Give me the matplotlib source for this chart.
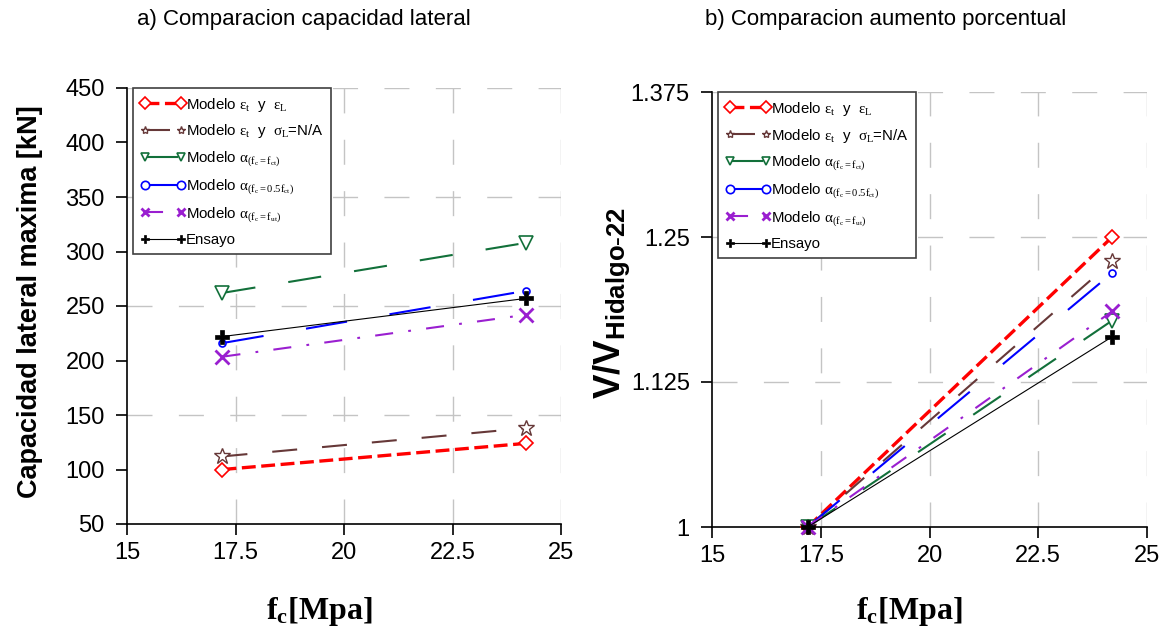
import numpy as np
import matplotlib
matplotlib.use("Agg")
import matplotlib.pyplot as plt

plt.rcParams['font.family'] = ['Liberation Sans', 'DejaVu Sans']
plt.rcParams['mathtext.fontset'] = 'custom'
plt.rcParams['mathtext.rm'] = 'Liberation Serif'
plt.rcParams['mathtext.it'] = 'Liberation Serif'
plt.rcParams['mathtext.bf'] = 'Liberation Serif:bold'
plt.rcParams['mathtext.sf'] = 'Liberation Sans:bold'
plt.rcParams['lines.scale_dashes'] = False

# data
fc = [17.2, 24.2]

cap_eps_L = [100, 124]
cap_eps_sig = [112, 138]
cap_fct = [262, 308]
cap_05fct = [216, 264]
cap_fut = [203.5, 242]
cap_ensayo = [222, 257]

rel_eps_L = [1.0, 1.250]
rel_eps_sig = [1.0, 1.229]
rel_fct = [1.0, 1.178]
rel_05fct = [1.0, 1.219]
rel_fut = [1.0, 1.186]
rel_ensayo = [1.0, 1.164]

labels = [r"Modelo $\varepsilon_t$  y  $\varepsilon_L$",
          r"Modelo $\varepsilon_t$  y  $\sigma_L$=N/A",
          r"Modelo $\alpha_{(f_c=f_{ct})}$",
          r"Modelo $\alpha_{(f_c=0.5f_{ct})}$",
          r"Modelo $\alpha_{(f_c=f_{ut})}$",
          "Ensayo"]

styles = [
    dict(color='#ff0000', ls=(0, (10, 4)), lw=2.4, marker='D', ms=7, mfc='white', mew=1.2),
    dict(color='#663838', ls=(0, (18, 18)), lw=1.5, marker='*', ms=12, mfc='white', mew=1.0),
    dict(color='#12703a', ls=(0, (24, 24)), lw=1.5, marker='v', ms=10, mfc='white', mew=1.2),
    dict(color='#0000ff', ls=(0, (30, 31)), lw=1.5, marker='o', ms=5, mfc='white', mew=1.2),
    dict(color='#9a1fd0', ls=(0, (13, 11, 2, 11)), lw=1.5, marker='x', ms=10, mew=2.0),
    dict(color='black', ls='-', lw=0.8, marker='P', ms=10, mfc='black', mew=0.5),
]

W, H = 1169, 634
fig = plt.figure(figsize=(W / 100, H / 100), dpi=100)

ax1 = fig.add_axes([127 / W, 1 - 524 / H, 434 / W, 436 / H])
ax2 = fig.add_axes([712 / W, 1 - 527 / H, 435 / W, 435 / H])

left_series = [cap_eps_L, cap_eps_sig, cap_fct, cap_05fct, cap_fut, cap_ensayo]
right_series = [rel_eps_L, rel_eps_sig, rel_fct, rel_05fct, rel_fut, rel_ensayo]

grid_kw = dict(color='#c4c4c4', lw=1.0, ls=(0, (18, 19)), zorder=0)

for ax, series in [(ax1, left_series), (ax2, right_series)]:
    for y, st, lab in zip(series, styles, labels):
        ax.plot(fc, y, label=lab, zorder=3, clip_on=False, **st)
    ax.set_xlim(15, 25)
    ax.set_xticks([15, 17.5, 20, 22.5, 25])
    ax.set_xticklabels(['15', '17.5', '20', '22.5', '25'])
    for s in ['top', 'right']:
        ax.spines[s].set_visible(False)
    for s in ['left', 'bottom']:
        ax.spines[s].set_linewidth(1.2)
    ax.tick_params(direction='out', length=8, width=1.2, labelsize=17, pad=5)
    ax.tick_params(axis='y', pad=8)
    for xv in [17.5, 20, 22.5, 25]:
        ax.axvline(xv, **grid_kw)
    leg = ax.legend(loc='upper left', numpoints=2, fontsize=10.8, frameon=True,
                    fancybox=False, framealpha=1, edgecolor='#404040',
                    handlelength=3.0, handletextpad=0.05, labelspacing=0.6,
                    borderpad=0.5, borderaxespad=0, bbox_to_anchor=(0.013, 1.0))
    leg.get_frame().set_linewidth(1.2)
    for h in leg.legend_handles:
        h.set_markersize(6)

ax1.set_ylim(50, 450)
ax1.set_yticks(np.arange(50, 451, 50))
for yv in [150, 250, 350, 450]:
    ax1.axhline(yv, **grid_kw)

ax2.set_ylim(1, 1.375)
ax2.set_yticks([1, 1.125, 1.25, 1.375])
ax2.set_yticklabels(['1', '1.125', '1.25', '1.375'])
for yv in [1.125, 1.25, 1.375]:
    ax2.axhline(yv, **grid_kw)

fig.text(304 / W, 1 - 20 / H, "a) Comparacion capacidad lateral", fontsize=16,
         ha='center', va='center')
fig.text(886 / W, 1 - 20 / H, "b) Comparacion aumento porcentual", fontsize=16,
         ha='center', va='center')

fig.text(30 / W, 1 - 302 / H, "Capacidad lateral maxima [kN]", fontsize=19.5,
         fontweight='bold', rotation=90, ha='center', va='center')
fig.text(612 / W, 1 - 303 / H, r"V/V$_\mathsf{Hidalgo\text{-}22}$", fontsize=26.5,
         fontweight='bold', rotation=90, ha='center', va='center')

fig.text(319 / W, 1 - 612 / H, r"$\mathbf{f_c[Mpa]}$", fontsize=23,
         ha='center', va='center')
fig.text(909 / W, 1 - 612 / H, r"$\mathbf{f_c[Mpa]}$", fontsize=23,
         ha='center', va='center')

fig.savefig("out.png", dpi=100)
